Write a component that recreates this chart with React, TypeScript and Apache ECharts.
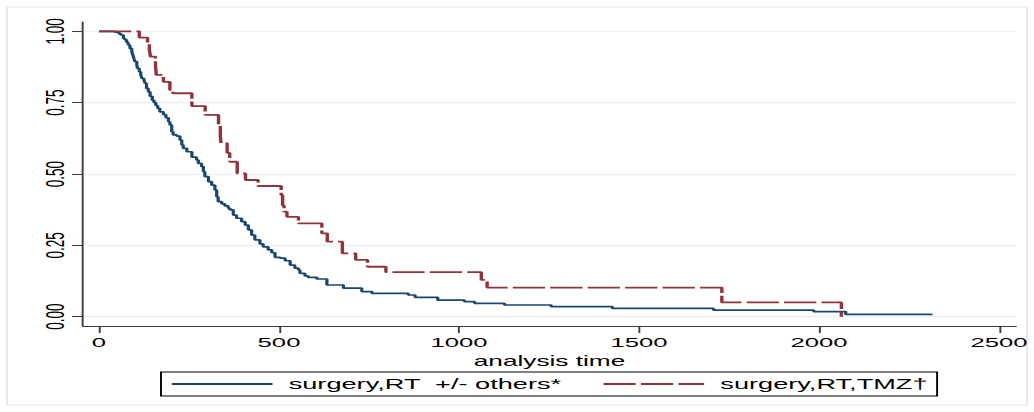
import React, { useEffect, useRef } from "react";
import * as echarts from "echarts";

// The figure is laid out in a narrow frame and widened horizontally,
// the way the exported survival plot is.
const STRETCH = 1.9;
const PAGE_W = 1034;
const PAGE_H = 412;
const FRAME_W = PAGE_W / STRETCH;

const FONT = "'Liberation Sans', Arial, Helvetica, sans-serif";

const xTicks = [0, 500, 1000, 1500, 2000, 2500];
const yTicks = [0, 0.25, 0.5, 0.75, 1];

const seriesNames = ["surgery,RT  +/- others*", "surgery,RT,TMZ\u2020"];
const seriesColors = ["#1a476f", "#90353b"];

// Kaplan-Meier estimate, surgery + RT +/- others: time (days) and survival after each event
const otherTimes = [
  0, 44, 54, 60, 68, 72, 77, 81, 86, 91, 94, 97, 100, 105, 107, 112, 116, 119, 125, 128,
  132, 137, 142, 148, 153, 158, 163, 169, 179, 186, 193, 197, 202, 206, 216, 225, 230, 234,
  244, 258, 271, 276, 285, 290, 294, 304, 313, 322, 327, 331, 341, 350, 359, 364, 373, 382,
  396, 406, 415, 424, 433, 447, 456, 470, 480, 489, 503, 517, 531, 544, 554, 558, 572, 581,
  605, 633, 679, 730, 758, 859, 878, 941, 1015, 1043, 1126, 1256, 1426, 1707, 1985, 2074, 2315,
];
const otherSurv = [
  1, 0.997, 0.993, 0.987, 0.975, 0.97, 0.961, 0.952, 0.94, 0.929, 0.917, 0.905, 0.894, 0.882,
  0.87, 0.858, 0.847, 0.835, 0.829, 0.818, 0.8, 0.788, 0.772, 0.758, 0.75, 0.74, 0.73, 0.718,
  0.708, 0.697, 0.683, 0.672, 0.648, 0.637, 0.633, 0.619, 0.602, 0.59, 0.578, 0.559, 0.549,
  0.537, 0.526, 0.508, 0.491, 0.473, 0.461, 0.444, 0.42, 0.403, 0.395, 0.388, 0.38, 0.374,
  0.356, 0.345, 0.333, 0.321, 0.304, 0.286, 0.269, 0.255, 0.245, 0.234, 0.224, 0.208, 0.205,
  0.196, 0.181, 0.17, 0.164, 0.152, 0.143, 0.138, 0.132, 0.111, 0.1, 0.088, 0.082, 0.076,
  0.068, 0.058, 0.053, 0.047, 0.041, 0.035, 0.029, 0.023, 0.018, 0.008, 0.008,
];

// Kaplan-Meier estimate, surgery + RT + TMZ
const tmzTimes = [0, 112, 135, 140, 143, 157, 159, 179, 197, 205, 258, 295, 332, 337, 339, 356, 363, 384, 407, 442, 506, 510, 514, 522, 554, 619, 634, 676, 713, 746, 797, 1062, 1078, 1730, 2062];
const tmzSurv = [1, 0.978, 0.958, 0.935, 0.911, 0.88, 0.847, 0.823, 0.794, 0.783, 0.738, 0.707, 0.672, 0.63, 0.608, 0.574, 0.543, 0.502, 0.479, 0.458, 0.426, 0.39, 0.368, 0.35, 0.327, 0.292, 0.263, 0.222, 0.199, 0.175, 0.156, 0.129, 0.102, 0.05, 0];

const pairs = (t: number[], s: number[]) => t.map((v, i) => [v, s[i]]);

export default function App() {
  const ref = useRef<HTMLDivElement>(null);

  useEffect(() => {
    if (!ref.current) return;
    const chart = echarts.init(ref.current, null, {
      renderer: "svg",
      width: FRAME_W,
      height: PAGE_H,
    });
    const axisColor = "#3c3c3c";
    chart.setOption({
      animation: false,
      backgroundColor: "#ffffff",
      grid: {
        left: 83 / STRETCH,
        right: (PAGE_W - 1016) / STRETCH,
        top: 22,
        bottom: PAGE_H - 326,
      },
      xAxis: {
        type: "value",
        min: -44.4,
        max: 2547,
        axisLine: { show: true, onZero: false, lineStyle: { color: axisColor, width: 1 } },
        axisTick: { show: true, length: 7, customValues: xTicks, lineStyle: { color: axisColor } },
        axisLabel: {
          customValues: xTicks,
          color: "#000",
          fontSize: 13.5,
          fontFamily: FONT,
          margin: 9,
          formatter: (v: number) => String(v),
        },
        splitLine: { show: false },
        name: "analysis time",
        nameLocation: "middle",
        nameGap: 24,
        nameTextStyle: { color: "#000", fontSize: 13.8, fontFamily: FONT },
      },
      yAxis: {
        type: "value",
        min: -0.0326,
        max: 1.0326,
        axisLine: { show: true, onZero: false, lineStyle: { color: axisColor, width: 1 } },
        axisTick: { show: true, length: 11 / STRETCH, customValues: yTicks, lineStyle: { color: axisColor, width: 1 } },
        axisLabel: {
          customValues: yTicks,
          rotate: 90,
          color: "#000",
          fontSize: 13.5,
          fontFamily: FONT,
          margin: 8,
          formatter: (v: number) => v.toFixed(2),
        },
        splitLine: { show: true, lineStyle: { color: "#eaf2f3", width: 1.3 } },
      },
      legend: {
        left: 161 / STRETCH,
        top: 372,
        orient: "horizontal",
        itemWidth: 53,
        itemHeight: 12,
        itemGap: 21,
        padding: [5, 5, 5, 4.7],
        borderColor: "#000",
        borderWidth: 1,
        itemStyle: { opacity: 0 },
        textStyle: { color: "#000", fontSize: 14.3, fontFamily: FONT, padding: [0, 0, 0, 3.5] },
        data: seriesNames,
      },
      graphic: [
        {
          type: "rect",
          silent: true,
          shape: { x: 7 / STRETCH, y: 7, width: (1027 - 7) / STRETCH, height: 398 },
          style: { fill: "none", stroke: "#e4eaed", lineWidth: 1 },
        },
      ],
      series: [
        {
          name: seriesNames[0],
          type: "line",
          step: "end",
          symbol: "none",
          data: pairs(otherTimes, otherSurv),
          lineStyle: { color: seriesColors[0], width: 1.7 },
          itemStyle: { color: seriesColors[0] },
          z: 2,
        },
        {
          name: seriesNames[1],
          type: "line",
          step: "end",
          symbol: "none",
          data: pairs(tmzTimes, tmzSurv),
          lineStyle: { color: seriesColors[1], width: 1.8, type: [17, 2.7] },
          itemStyle: { color: seriesColors[1] },
          z: 3,
        },
      ],
    });
    return () => chart.dispose();
  }, []);

  return (
    <div
      ref={ref}
      style={{
        position: "absolute",
        left: 0,
        top: 0,
        width: FRAME_W,
        height: PAGE_H,
        transform: `scaleX(${STRETCH})`,
        transformOrigin: "0 0",
      }}
    />
  );
}
